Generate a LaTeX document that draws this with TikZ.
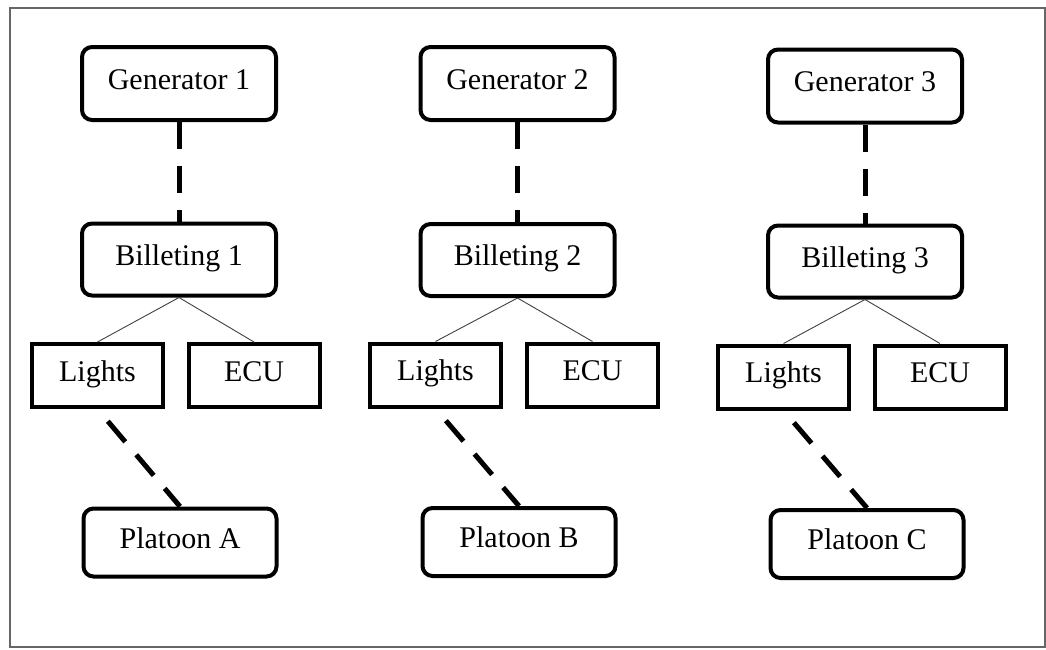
\documentclass[tikz,border=0pt]{standalone}
\usepackage{fontspec}
\setmainfont{Liberation Serif}
\begin{document}
\begin{tikzpicture}[x=1pt,y=-1pt,
  every node/.style={font=\fontsize{30}{34}\selectfont, text height=20pt, text depth=9pt, inner sep=0pt},
  roundbox/.style={draw, line width=4pt, rounded corners=10pt, minimum width=194pt, fill=white},
  gen/.style={roundbox, minimum height=73pt},
  bill/.style={roundbox, minimum height=72pt},
  plat/.style={roundbox, minimum width=193pt, minimum height=68pt},
  unit/.style={draw, line width=4pt, minimum width=131pt, minimum height=63pt, fill=white},
  link/.style={line width=5pt, dash pattern=on 27pt off 17pt},
  thin/.style={line width=0.9pt, draw=black!75},
  frame/.style={draw=black!60, line width=1.5pt}
]
\useasboundingbox (0,0) rectangle (1046,649);
\draw[frame] (10,8) rectangle (1045,647);

% column 1
\node[gen]  (g1) at (179,83.5)  {Generator 1};
\node[bill] (b1) at (179,259.5) {Billeting 1};
\node[unit] (l1) at (97.5,375.5) {Lights};
\node[unit] (e1) at (254,375.5) {ECU};
\node[plat] (p1) at (180,542.5) {Platoon A};

% column 2
\node[gen]  (g2) at (517.5,83.5)  {Generator 2};
\node[bill] (b2) at (517.5,260)   {Billeting 2};
\node[unit] (l2) at (435.5,375)   {Lights};
\node[unit] (e2) at (592.5,375)   {ECU};
\node[plat] (p2) at (519,542)     {Platoon B};

% column 3
\node[gen]  (g3) at (865,86)    {Generator 3};
\node[bill] (b3) at (865,261.5) {Billeting 3};
\node[unit] (l3) at (783.5,377) {Lights};
\node[unit] (e3) at (940,377)   {ECU};
\node[plat] (p3) at (867,544)   {Platoon C};

% connectors: dashed power links, thin branch lines
\foreach \i in {1,2,3}{
  \draw[link] (g\i.south) -- (b\i.north);
  \draw[thin] (b\i.south) -- (l\i.north);
  \draw[thin] (b\i.south) -- (e\i.north);
  \draw[link, dash phase=28pt] (l\i.south) -- (p\i.north);
}
\end{tikzpicture}
\end{document}
